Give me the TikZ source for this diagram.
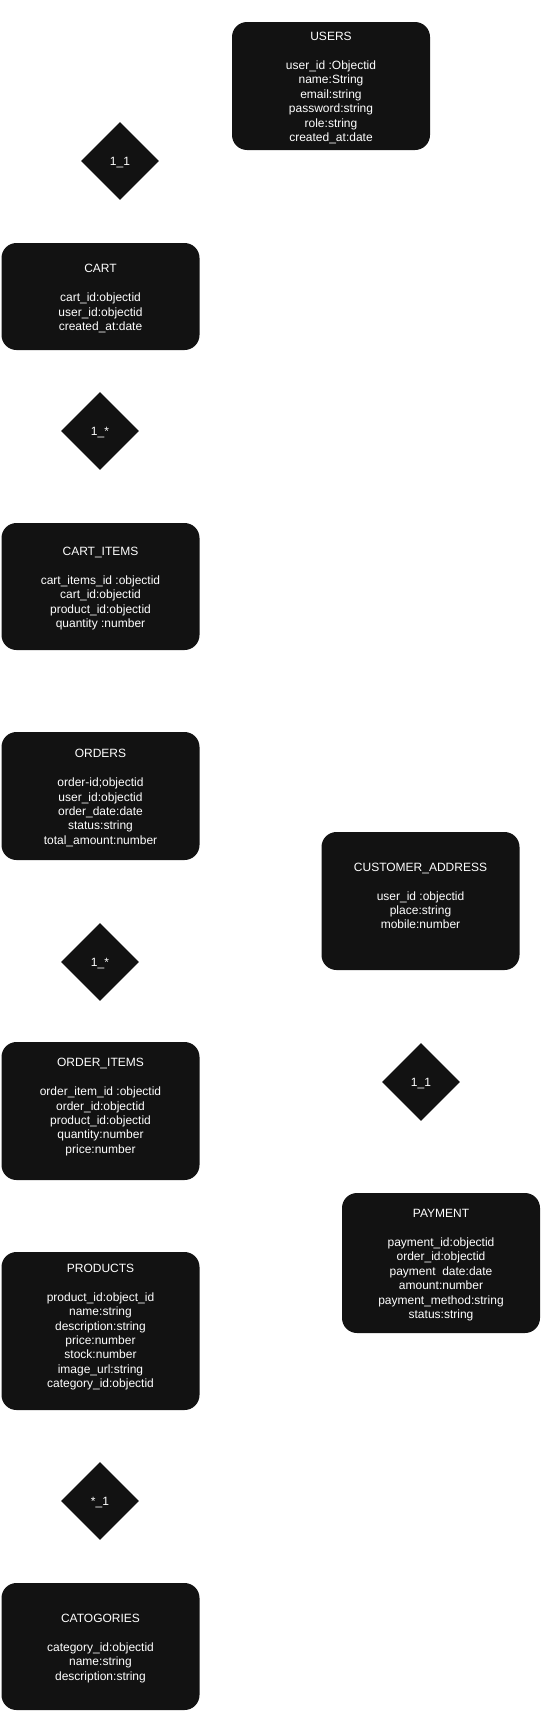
\documentclass[tikz,border=0pt]{standalone}
\usepackage{fontspec}
\setmainfont{Liberation Sans}
\usepackage{tikz}
\usetikzlibrary{shapes.geometric}
\definecolor{boxfill}{RGB}{18,18,18}
\newcommand{\etitle}[1]{\rule{0pt}{12.6pt}#1}

\begin{document}
\begin{tikzpicture}[x=1pt,y=-1pt,line join=round,line cap=round]
        \tikzset{entity/.style={fill=boxfill,rounded corners=15pt,text=white,
                 minimum width=198pt,inner sep=0pt,align=center,
                 font=\fontsize{12}{14.4}\selectfont},
                 rel/.style={diamond,fill=boxfill,text=white,minimum size=78pt,
                 inner sep=0pt,text height=8.6pt,text depth=0pt,
                 font=\fontsize{12}{14.4}\selectfont}}
        \useasboundingbox (0,0) rectangle (541,1713);
        % left column
        \node[entity,minimum height=128pt] (users) at (331,86)
            {\etitle{USERS}\\[14.4pt]user\_id :Objectid\\name:String\\email:string\\password:string\\role:string\\created\_at:date};
        \node[entity,minimum height=107pt] (cart) at (100.5,296.5)
            {\etitle{CART}\\[14.4pt]cart\_id:objectid\\user\_id:objectid\\created\_at:date};
        \node[entity,minimum height=127pt] (cartitems) at (100.5,586.5)
            {\etitle{CART\_ITEMS}\\[14.4pt]cart\_items\_id :objectid\\cart\_id:objectid\\product\_id:objectid\\quantity :number};
        \node[entity,minimum height=128pt] (orders) at (100.5,796)
            {\etitle{ORDERS}\\[14.4pt]order-id;objectid\\user\_id:objectid\\order\_date:date\\status:string\\total\_amount:number};
        \node[entity,minimum height=138pt] (orderitems) at (100.5,1111)
            {\etitle{ORDER\_ITEMS}\\[14.4pt]order\_item\_id :objectid\\order\_id:objectid\\product\_id:objectid\\quantity:number\\price:number\\\mbox{}};
        \node[entity,minimum height=158pt] (products) at (100.5,1331)
            {\etitle{PRODUCTS}\\[14.4pt]product\_id:object\_id\\name:string\\description:string\\price:number\\stock:number\\image\_url:string\\category\_id:objectid\\\mbox{}};
        \node[entity,minimum height=127pt] (categories) at (100.5,1646.5)
            {\etitle{CATOGORIES}\\[14.4pt]category\_id:objectid\\name:string\\description:string};
        % right column
        \node[entity,minimum height=138pt] (address) at (420.5,901)
            {\etitle{CUSTOMER\_ADDRESS}\\[14.4pt]user\_id :objectid\\place:string\\mobile:number\\\mbox{}};
        \node[entity,minimum height=140pt] (payment) at (441,1263)
            {\etitle{PAYMENT}\\[14.4pt]payment\_id:objectid\\order\_id:objectid\\payment\ \ date:date\\amount:number\\payment\_method:string\\status:string};
        % relations
        \foreach \nm/\pos/\lab in {usercart/{120,161}/1\_1, cartitem/{100,431}/1\_*,
                 orderitem/{100,962}/1\_*, prodcat/{100,1501}/*\_1, addrpay/{421,1082}/1\_1}
            \node[rel] (\nm) at (\pos) {\lab};
\end{tikzpicture}
\end{document}
